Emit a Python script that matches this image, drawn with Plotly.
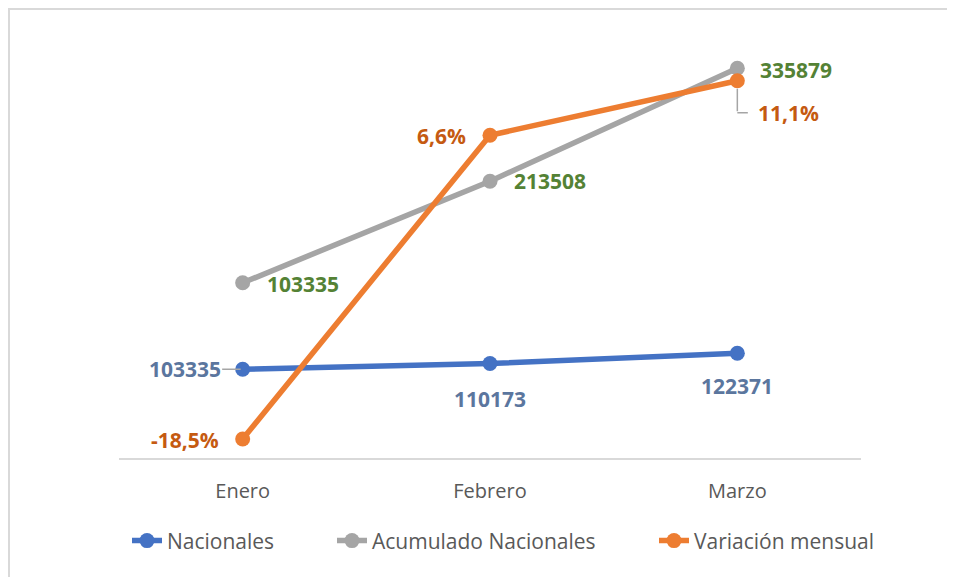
import plotly.graph_objects as go

meses = ["Enero", "Febrero", "Marzo"]
nacionales = [103335, 110173, 122371]
acumulado = [103335, 213508, 335879]
variacion = [-0.185, 0.066, 0.111]

AZUL = "#4472C4"
GRIS = "#A5A5A5"
NARANJA = "#ED7D31"
TXT = "#595959"
FONT = "Open Sans"


def pct(v):
    return ("%.1f%%" % (v * 100)).replace(".", ",")


fig = go.Figure()

fig.add_trace(go.Scatter(x=meses, y=nacionales, name="Nacionales", mode="lines+markers",
                         line=dict(color=AZUL, width=5.5), marker=dict(size=15, color=AZUL),
                         yaxis="y", legend="legend", showlegend=True))
fig.add_trace(go.Scatter(x=meses, y=acumulado, name="Acumulado Nacionales", mode="lines+markers",
                         line=dict(color=GRIS, width=5.5), marker=dict(size=15, color=GRIS),
                         yaxis="y2", legend="legend2", showlegend=True))
fig.add_trace(go.Scatter(x=meses, y=variacion, name="Variación mensual", mode="lines+markers",
                         line=dict(color=NARANJA, width=5.5), marker=dict(size=15, color=NARANJA),
                         yaxis="y3", legend="legend3", showlegend=True))

lbl = dict(family=FONT, size=21, weight="bold")
anns = []

# etiquetas Nacionales
for i, (m, v) in enumerate(zip(meses, nacionales)):
    if i == 0:
        anns.append(dict(x=m, y=v, xref="x", yref="y", text=str(v), showarrow=True,
                         ax=-58, ay=0, arrowhead=0, arrowwidth=1.5, arrowcolor=GRIS,
                         standoff=2, font=dict(lbl, color="#5B769E")))
    else:
        anns.append(dict(x=m, y=v, xref="x", yref="y", text=str(v), showarrow=False,
                         yshift=[0, -35, -33][i], xanchor="center",
                         font=dict(lbl, color="#5B769E")))

# etiquetas Acumulado
for i, (m, v) in enumerate(zip(meses, acumulado)):
    anns.append(dict(x=m, y=v, xref="x", yref="y2", text=str(v), showarrow=False,
                     xanchor="left", xshift=[22, 22, 21][i], yshift=[-1, 0, -2][i],
                     font=dict(lbl, color="#548235")))

# etiquetas Variación
for i, (m, v) in enumerate(zip(meses, variacion)):
    if i < 2:
        anns.append(dict(x=m, y=v, xref="x", yref="y3", text=pct(v), showarrow=False,
                         xanchor="right", xshift=-22, yshift=-1,
                         font=dict(lbl, color="#C55A11")))
    else:
        anns.append(dict(x=m, y=v, xref="x", yref="y3", text=pct(v), showarrow=False,
                         xanchor="left", xshift=19, yshift=-32,
                         font=dict(lbl, color="#C55A11")))
        # guia en codo
        anns.append(dict(x=m, y=v, xref="x", yref="y3", text="", showarrow=True,
                         ax=0, ay=32, arrowhead=0, arrowwidth=1.5, arrowcolor=GRIS, standoff=8))
        anns.append(dict(x=m, y=v, xref="x", yref="y3", text="", showarrow=True, yshift=-32,
                         ax=12, ay=0, arrowhead=0, arrowwidth=1.5, arrowcolor=GRIS, standoff=0))

leg = dict(orientation="h", xref="container", yref="container", y=0.0763, yanchor="middle",
           xanchor="left", bgcolor="rgba(0,0,0,0)", visible=True,
           font=dict(family=FONT, size=21, color=TXT))

fig.update_layout(
    width=955, height=577,
    margin=dict(l=111, r=102, t=12, b=127),
    paper_bgcolor="white", plot_bgcolor="white",
    font=dict(family=FONT, color=TXT),
    showlegend=True,
    annotations=anns,
    legend=dict(leg, x=119 / 955),
    legend2=dict(leg, x=324 / 955),
    legend3=dict(leg, x=646 / 955),
    xaxis=dict(type="category", range=[-0.5, 2.5], showgrid=False, showline=True,
               linecolor="#D9D9D9", linewidth=1.5, ticks="outside", ticklen=14,
               tickcolor="rgba(0,0,0,0)", tickfont=dict(family=FONT, size=20, color=TXT),
               zeroline=False),
    yaxis=dict(range=[-2200, 518900], visible=False),
    yaxis2=dict(range=[-86585, 388238], visible=False, overlaying="y"),
    yaxis3=dict(range=[-0.2007, 0.1612], visible=False, overlaying="y"),
    shapes=[dict(type="rect", xref="paper", yref="paper", x0=-110 / 742, x1=1.4,
                 y0=-0.6, y1=1 + 11 / 438,
                 line=dict(color="#D9D9D9", width=2), layer="below")],
)

fig.write_html("out.html")
